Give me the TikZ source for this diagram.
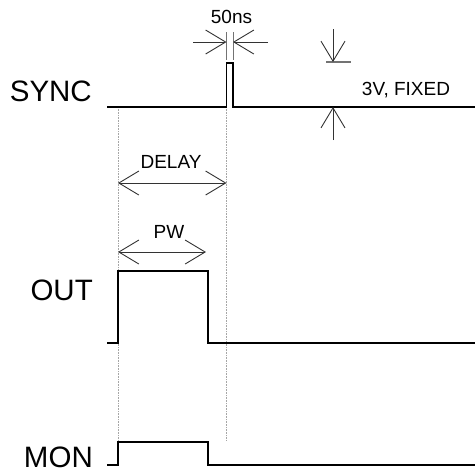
\documentclass[tikz,border=0pt]{standalone}
\usepackage{fontspec}
\setmainfont{Liberation Sans}
\usetikzlibrary{arrows.meta}
\begin{document}
\begin{tikzpicture}[
    x=1pt, y=-1pt,
    signal/.style={
      draw=black,
      line width=1.6pt,
      line join=miter
    },
    guide/.style={
      draw=black!35,
      line width=0.6pt,
      densely dotted
    },
    dim/.style={
      draw=black!80,
      line width=0.9pt,
      arrows={Straight Barb[length=20pt, width=24pt, line width=0.9pt]-Straight Barb[length=20pt, width=24pt, line width=0.9pt]}
    },
    dimone/.style={
      draw=black!80,
      line width=0.9pt,
      -{Straight Barb[length=20pt, width=24pt, line width=0.9pt]}
    },
    extline/.style={
      draw=black!55,
      line width=1.1pt
    },
    big/.style={
      inner sep=0pt,
      anchor=base east,
      font=\fontsize{29.5}{31}\selectfont
    },
    small/.style={
      inner sep=0pt,
      font=\fontsize{19}{21}\selectfont
    },
]

\useasboundingbox (0,0) rectangle (475,467);

% signal names
\node[big] (SYNC) at (92,101) {SYNC};
\node[big] (OUT) at (93,300.5) {OUT};
\node[big] (MON) at (93,467) {MON};

% time marks
\coordinate (t0) at (118,107);
\coordinate (t0b) at (118,442);
\coordinate (t1) at (226.5,107);
\coordinate (t1b) at (226.5,440);

\draw[guide] (t0) -- (t0b);
\draw[guide] (t1) -- (t1b);

% waveforms
\draw[signal] (107,107) -- (226.5,107) -- (226.5,63) -- (233,63) -- (233,107) -- (475,107);
\draw[signal] (107,343) -- (118,343) -- (118,271) -- (208,271) -- (208,343) -- (475,343);
\draw[signal] (107,465) -- (118,465) -- (118,442) -- (208,442) -- (208,465) -- (475,465);

% 50ns
\coordinate (wl) at (226.5,42);
\coordinate (wr) at (233,42);
\draw[extline, line width=0.8pt] (226.5,32) -- (226.5,60);
\draw[extline, line width=0.8pt] (233,32) -- (233,60);
\draw[dimone] (193,42) -- (wl);
\draw[dimone] (268,42) -- (wr);
\node[small] (width) at (231.5,17) {50ns};

% 3V, FIXED
\coordinate (vtop) at (333,62);
\coordinate (vbot) at (333,107);
\draw[extline] (326,62) -- (351,62);
\draw[dimone] (333,29) -- (vtop);
\draw[dimone] (333,140) -- (vbot);
\node[small] (amp) at (406,90) {3V, FIXED};

% DELAY
\coordinate (dl) at (118,183);
\coordinate (dr) at (226.5,183);
\draw[dim] (dl) -- (dr);
\node[small] (delay) at (171,162) {DELAY};

% PW
\coordinate (pl) at (118,252);
\coordinate (pr) at (206,252);
\draw[dim] (pl) -- (pr);
\node[small] (pw) at (169,232) {PW};

\end{tikzpicture}
\end{document}
